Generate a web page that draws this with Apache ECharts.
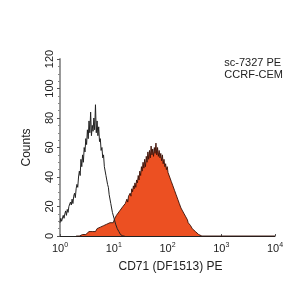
<!DOCTYPE html>
<html><head><meta charset="utf-8">
<script src="https://cdn.jsdelivr.net/npm/echarts@6/dist/echarts.min.js"></script>
<style>html,body{margin:0;padding:0;background:#fff}#c{width:300px;height:300px}</style>
</head><body><div id="c"></div>
<script>
// histogram bins: [decade exponent (log10 fluorescence), counts]
const controlHist = [
[0,9],[0.015,12],[0.03,10],[0.045,11],[0.06,14],[0.075,12],[0.09,15],[0.105,17],[0.12,14],[0.135,18],
[0.15,16],[0.165,20],[0.18,19],[0.195,23],[0.21,21],[0.225,25],[0.24,22],[0.255,27],[0.27,29],[0.285,26],
[0.30,32],[0.315,35],[0.33,33],[0.345,40],[0.36,44],[0.375,41],[0.39,52],[0.405,47],[0.42,55],[0.435,50],
[0.45,60],[0.465,57],[0.48,66],[0.495,62],[0.51,72],[0.525,66],[0.54,78],[0.555,70],[0.57,84],[0.585,68],
[0.60,75],[0.615,71],[0.63,80],[0.645,72],[0.66,89],[0.675,70],[0.69,78],[0.705,68],[0.72,74],[0.735,64],
[0.75,66],[0.765,58],[0.78,60],[0.795,53],[0.81,55],[0.825,47],[0.84,46],[0.855,41],[0.87,42],[0.885,35],
[0.90,33],[0.915,28],[0.93,27],[0.945,22],[0.96,21],[0.975,16],[0.99,15],[1.005,12],[1.02,11],[1.035,8],
[1.05,7],[1.065,5],[1.08,4],[1.095,3],[1.11,2],[1.125,1],[1.14,1],[1.155,1],[1.17,0],[1.20,0]
];
const stainedHist = [
[0.30,0],[0.33,1],[0.36,0],[0.39,1],[0.42,1],[0.45,2],[0.48,1],[0.51,2],[0.54,3],[0.57,2],
[0.60,3],[0.63,4],[0.66,3],[0.69,5],[0.72,4],[0.75,6],[0.78,5],[0.81,7],[0.84,6],[0.87,8],
[0.90,7],[0.93,9],[0.96,10],[0.99,9],[1.02,12],[1.05,14],[1.08,13],[1.11,17],[1.14,16],[1.17,20],
[1.200,19],[1.215,22],[1.23,21],[1.245,25],[1.26,23],[1.275,27],[1.29,26],[1.305,29],[1.32,27],[1.335,32],
[1.35,30],[1.365,34],[1.38,32],[1.395,36],[1.41,33],[1.425,38],[1.44,36],[1.455,41],[1.47,38],[1.485,44],
[1.50,41],[1.515,47],[1.53,44],[1.545,50],[1.56,46],[1.575,52],[1.59,47],[1.605,54],[1.62,50],[1.635,57],
[1.65,52],[1.665,58],[1.68,53],[1.695,61],[1.71,55],[1.725,59],[1.74,54],[1.755,60],[1.77,56],[1.785,63],
[1.80,55],[1.815,60],[1.83,54],[1.845,58],[1.86,53],[1.875,56],[1.89,51],[1.905,55],[1.92,49],[1.935,52],
[1.95,47],[1.965,49],[1.98,45],[1.995,47],[2.01,43],[2.025,44],[2.04,40],[2.055,41],[2.07,37],[2.085,38],
[2.10,34],[2.115,35],[2.13,31],[2.145,31],[2.16,28],[2.175,28],[2.19,25],[2.205,25],[2.22,22],[2.235,22],
[2.25,19],[2.265,19],[2.28,17],[2.295,16],[2.31,15],[2.325,14],[2.34,13],[2.355,12],[2.37,11],[2.385,9],
[2.40,8],[2.43,7],[2.46,5],[2.49,4],[2.52,3],[2.55,2],[2.58,1],[2.61,1],[2.64,0],[3.0,0],[4.0,0]
];
const yTicks = [0,20,40,60,80,100,120];
const xTitle = 'CD71 (DF1513) PE';
const yTitle = 'Counts';
const noteLines = ['sc-7327 PE','CCRF-CEM'];

const FONT = '"Liberation Sans Narrow","Liberation Sans",Arial,sans-serif';
const toPairs = h => h.map(p => [Math.pow(10, p[0]), p[1]]);

const chart = echarts.init(document.getElementById('c'), null, {renderer: 'canvas'});
chart.setOption({
  animation: false,
  backgroundColor: '#fff',
  grid: {left: 60, right: 25, top: 59, bottom: 64},
  xAxis: {
    type: 'log', logBase: 10, min: 1, max: 10000,
    name: xTitle, nameLocation: 'middle', nameGap: 25,
    nameTextStyle: {fontFamily: FONT, fontSize: 12, color: '#222', padding: [0, 0, 0, 6]},
    axisLine: {lineStyle: {color: '#222', width: 1}},
    axisTick: {show: true, inside: true, length: 2, lineStyle: {color: '#555'}},
    minorTick: {show: false},
    splitLine: {show: false},
    axisLabel: {
      margin: 6,
      formatter: v => '{b|10}{s|' + Math.round(Math.log10(v)) + '}',
      rich: {
        b: {fontFamily: FONT, fontSize: 11, color: '#222'},
        s: {fontFamily: FONT, fontSize: 7, color: '#222', padding: [0, 0, 6, 0]}
      }
    }
  },
  yAxis: {
    type: 'value', min: 0, max: 120, interval: 20,
    name: yTitle, nameLocation: 'middle', nameGap: 27,
    nameTextStyle: {fontFamily: FONT, fontSize: 12, color: '#222'},
    axisLine: {show: true, lineStyle: {color: '#999', width: 2}},
    axisTick: {show: true, length: 3, lineStyle: {color: '#555'}},
    minorTick: {show: true, splitNumber: 4, length: 2, lineStyle: {color: '#888'}},
    splitLine: {show: false},
    axisLabel: {
      rotate: 90, margin: 5, color: '#222', fontFamily: FONT, fontSize: 11,
      formatter: v => yTicks.includes(v) ? String(v) : ''
    }
  },
  series: [
    {
      type: 'line', data: toPairs(stainedHist), showSymbol: false, z: 2,
      lineStyle: {color: '#3a1006', width: 0.9},
      areaStyle: {color: '#ec5022', opacity: 1}
    },
    {
      type: 'line', data: toPairs(controlHist), showSymbol: false, z: 3,
      lineStyle: {color: '#222', width: 1}
    }
  ],
  graphic: [{
    type: 'text', right: 17, top: 57,
    style: {text: noteLines.join('\n'), fontFamily: FONT, fontSize: 11, fill: '#222', align: 'right', lineHeight: 12}
  }]
});
</script></body></html>
